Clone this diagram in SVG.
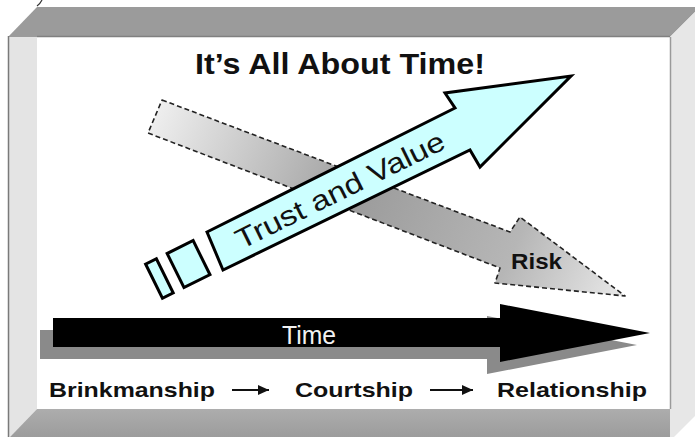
<svg xmlns="http://www.w3.org/2000/svg" width="695" height="437" viewBox="0 0 695 437">
  <defs>
    <linearGradient id="riskFill" gradientUnits="userSpaceOnUse" x1="160" y1="100" x2="610" y2="300">
      <stop offset="0" stop-color="#efefef"/>
      <stop offset="0.45" stop-color="#9c9c9c"/>
      <stop offset="0.78" stop-color="#b6b6b6"/>
      <stop offset="1" stop-color="#e4e4e4"/>
    </linearGradient>
    <linearGradient id="bottomBand" x1="0" y1="0" x2="0" y2="1">
      <stop offset="0" stop-color="#adadad"/>
      <stop offset="1" stop-color="#9c9c9c"/>
    </linearGradient>
    <marker id="stepHead" markerUnits="userSpaceOnUse" markerWidth="11" markerHeight="10" viewBox="0 0 11 10" refX="11" refY="5" orient="auto">
      <path d="M0,0 L11,5 L0,10 Z" fill="#111"/>
    </marker>
  </defs>
  <style>
    .bold { font-family: "Liberation Sans", Arial, sans-serif; font-weight: bold; fill: #111; }
    .plain { font-family: "Liberation Sans", Arial, sans-serif; }
    .step { fill: none; stroke: #111; stroke-width: 2; marker-end: url(#stepHead); }
  </style>

  <!-- bevelled frame -->
  <g id="frame">
    <rect x="0" y="0" width="695" height="437" fill="#ffffff"/>
    <rect x="37" y="37" width="633" height="372" fill="#ffffff"/>
    <polygon points="8,37 37,7 695,7 695,12 670,37" fill="#9b9b9b"/>
    <polygon points="8,37 37,37 37,409 10,437 8,437" fill="#e4e4e4"/>
    <polygon points="670,37 695,12 695,416 674,437 670,437" fill="#e7e7e7"/>
    <polygon points="37,409 670,409 670,437 10,437" fill="url(#bottomBand)"/>
    <line x1="8.5" y1="36" x2="8.5" y2="437" stroke="#7a7a7a" stroke-width="1.5"/>
    <line x1="37" y1="36.5" x2="670" y2="36.5" stroke="#808080" stroke-width="1.5"/>
    <line x1="670.5" y1="37" x2="670.5" y2="409" stroke="#9a9a9a" stroke-width="1.5"/>
    <path d="M37,6 Q40,4 42,0" fill="none" stroke="#333" stroke-width="1.2"/>
  </g>

  <g id="title">
    <text class="bold" x="195" y="74" font-size="29" textLength="290" lengthAdjust="spacingAndGlyphs">It’s All About Time!</text>
  </g>

  <!-- dashed grey arrow falling to the right -->
  <g id="risk">
    <polygon points="162,100 510,232 520,217 625,296 495,283 500,268 148,133" fill="url(#riskFill)" stroke="#222" stroke-width="1.6" stroke-dasharray="5 3" stroke-linejoin="round"/>
    <text class="bold" x="511" y="269" font-size="22" textLength="51" lengthAdjust="spacingAndGlyphs">Risk</text>
  </g>

  <!-- cyan arrow rising to the right, with two tail blocks -->
  <g id="trust">
    <polygon points="207,232 455,108 445,93 571,76 480,167 470,150 223,270" fill="#ccffff" stroke="#000" stroke-width="3" stroke-linejoin="miter"/>
    <g transform="translate(215,251) rotate(-26.3)">
      <rect x="-68" y="-19" width="12" height="38" fill="#ccffff" stroke="#000" stroke-width="3"/>
      <rect x="-44" y="-19" width="29" height="38" fill="#ccffff" stroke="#000" stroke-width="3"/>
      <text class="plain" x="24" y="10.5" font-size="28" fill="#111" textLength="230" lengthAdjust="spacingAndGlyphs">Trust and Value</text>
    </g>
  </g>

  <!-- black time arrow with its grey shadow -->
  <g id="time">
    <path transform="translate(-13,12)" d="M53,318 H500 V304 L650,333 L500,362 V347 H53 Z" fill="#8a8a8a"/>
    <path d="M53,318 H500 V304 L650,333 L500,362 V347 H53 Z" fill="#000"/>
    <text class="plain" x="282" y="344" font-size="25" fill="#f2f2f2" textLength="54" lengthAdjust="spacingAndGlyphs">Time</text>
  </g>

  <g id="brinkmanship">
    <text class="bold" x="49" y="397" font-size="21" textLength="166" lengthAdjust="spacingAndGlyphs">Brinkmanship</text>
  </g>
  <g id="courtship">
    <text class="bold" x="295" y="397" font-size="21" textLength="118" lengthAdjust="spacingAndGlyphs">Courtship</text>
  </g>
  <g id="relationship">
    <text class="bold" x="497" y="397" font-size="21" textLength="150" lengthAdjust="spacingAndGlyphs">Relationship</text>
  </g>

  <g id="connectors">
    <path class="step" d="M232,390 H269"/>
    <path class="step" d="M430,390 H473"/>
  </g>
</svg>
